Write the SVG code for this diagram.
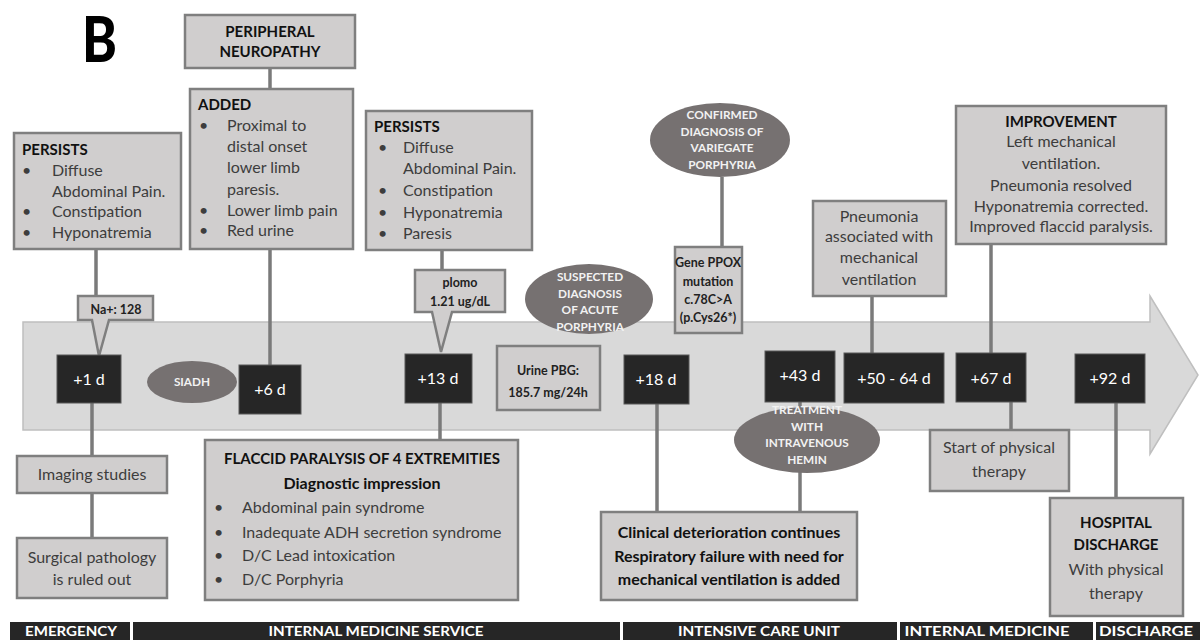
<svg xmlns="http://www.w3.org/2000/svg" width="1200" height="640" viewBox="0 0 1200 640">
<style>
.box{fill:#d0cece;stroke:#7f7f7f;stroke-width:2.5}
.tb{fill:#262626;stroke:#595959;stroke-width:1}
.ell{fill:#767171}
.cn{stroke:#7a7a7a;stroke-width:3.5;fill:none}
text{font-family:Lato,"Liberation Sans",sans-serif}
.h{font-weight:bold;fill:#111;font-size:15px}
.hm{font-weight:bold;fill:#111;font-size:16px}
.b{fill:#3d3d3d;font-size:16px}
.c{text-anchor:middle}
.sb{font-weight:bold;fill:#222;font-size:12.5px}
.e{font-weight:bold;fill:#f2f2f2;font-size:11.8px;text-anchor:middle}
.t{fill:#fff;font-size:16px;text-anchor:middle}
.bar{fill:#262626}
.bt{fill:#fff;font-weight:bold;font-size:13px;text-anchor:middle}
</style>
<rect width="1200" height="640" fill="#fff"/>
<text x="82" y="62" font-size="62" font-weight="900" fill="#000" textLength="35" lengthAdjust="spacingAndGlyphs">B</text>

<g id="timeline">
<path d="M23,322 H1150 V296 L1198,375 L1150,454 V430 H23 Z" fill="#d9d9d9" stroke="#bfbfbf" stroke-width="1.5"/>
</g>

<g id="connectors">
<line class="cn" x1="96" y1="249" x2="96" y2="296"/>
<line class="cn" x1="270" y1="68" x2="270" y2="89"/>
<line class="cn" x1="270" y1="249" x2="270" y2="365"/>
<line class="cn" x1="442" y1="250" x2="442" y2="270"/>
<line class="cn" x1="440" y1="402" x2="440" y2="440"/>
<line class="cn" x1="92" y1="402" x2="92" y2="456"/>
<line class="cn" x1="92" y1="493" x2="92" y2="538"/>
<line class="cn" x1="722" y1="177" x2="722" y2="247"/>
<line class="cn" x1="872" y1="296" x2="872" y2="353"/>
<line class="cn" x1="991" y1="244" x2="991" y2="353"/>
<line class="cn" x1="657" y1="404" x2="657" y2="512"/>
<line class="cn" x1="800" y1="402" x2="800" y2="410"/>
<line class="cn" x1="800" y1="470" x2="800" y2="512"/>
<line class="cn" x1="1011" y1="402" x2="1011" y2="430"/>
<line class="cn" x1="1116" y1="403" x2="1116" y2="498"/>
</g>

<g id="persists1">
<rect class="box" x="14" y="133" width="167" height="116"/>
<text class="h" x="22" y="155">PERSISTS</text>
<text class="b" x="22" y="176">•</text><text class="b" x="52" y="176">Diffuse</text>
<text class="b" x="52" y="197">Abdominal Pain.</text>
<text class="b" x="22" y="217">•</text><text class="b" x="52" y="217">Constipation</text>
<text class="b" x="22" y="238">•</text><text class="b" x="52" y="238">Hyponatremia</text>
</g>

<g id="peripheral">
<rect class="box" x="185" y="15" width="170" height="53"/>
<text class="h c" x="270" y="37" font-size="14">PERIPHERAL</text>
<text class="h c" x="270" y="57" font-size="14">NEUROPATHY</text>
</g>

<g id="added">
<rect class="box" x="190" y="89" width="163" height="160"/>
<text class="h" x="198" y="110">ADDED</text>
<text class="b" x="199" y="131">•</text><text class="b" x="227" y="131">Proximal to</text>
<text class="b" x="227" y="152">distal onset</text>
<text class="b" x="227" y="173">lower limb</text>
<text class="b" x="227" y="195">paresis.</text>
<text class="b" x="199" y="216">•</text><text class="b" x="227" y="216">Lower limb pain</text>
<text class="b" x="199" y="236">•</text><text class="b" x="227" y="236">Red urine</text>
</g>

<g id="persists2">
<rect class="box" x="366" y="111" width="166" height="139"/>
<text class="h" x="374" y="132">PERSISTS</text>
<text class="b" x="378" y="153">•</text><text class="b" x="403" y="153">Diffuse</text>
<text class="b" x="403" y="174">Abdominal Pain.</text>
<text class="b" x="378" y="196">•</text><text class="b" x="403" y="196">Constipation</text>
<text class="b" x="378" y="218">•</text><text class="b" x="403" y="218">Hyponatremia</text>
<text class="b" x="378" y="239">•</text><text class="b" x="403" y="239">Paresis</text>
</g>

<g id="na">
<path class="box" d="M78,296 H153 V320 H109 L99,356 L92,320 H78 Z"/>
<text class="sb c" x="116" y="314" font-size="13.5">Na+: 128</text>
</g>

<g id="plomo">
<path class="box" d="M415,270 H505 V312 H452 L441,352 L432,312 H415 Z"/>
<text class="sb c" x="460" y="287">plomo</text>
<text class="sb c" x="460" y="306">1.21 ug/dL</text>
</g>

<g id="suspected">
<ellipse class="ell" cx="589" cy="299" rx="64" ry="35"/>
<text class="e" x="590" y="281">SUSPECTED</text>
<text class="e" x="590" y="297.5">DIAGNOSIS</text>
<text class="e" x="590" y="314">OF ACUTE</text>
<text class="e" x="590" y="330.5">PORPHYRIA</text>
</g>

<g id="confirmed">
<ellipse class="ell" cx="720" cy="140" rx="70" ry="37"/>
<text class="e" x="722" y="119">CONFIRMED</text>
<text class="e" x="722" y="136">DIAGNOSIS OF</text>
<text class="e" x="722" y="152">VARIEGATE</text>
<text class="e" x="722" y="169">PORPHYRIA</text>
</g>

<g id="gene">
<rect class="box" x="675" y="247" width="67" height="86"/>
<text class="sb c" x="708" y="267">Gene PPOX</text>
<text class="sb c" x="708" y="286">mutation</text>
<text class="sb c" x="708" y="304">c.78C&gt;A</text>
<text class="sb c" x="708" y="322">(p.Cys26*)</text>
</g>

<g id="pneumonia">
<rect class="box" x="813" y="201" width="133" height="95"/>
<text class="b c" x="879" y="222">Pneumonia</text>
<text class="b c" x="879" y="242">associated with</text>
<text class="b c" x="879" y="263">mechanical</text>
<text class="b c" x="879" y="285">ventilation</text>
</g>

<g id="improvement">
<rect class="box" x="956" y="106" width="210" height="138"/>
<text class="h c" x="1061" y="127">IMPROVEMENT</text>
<text class="b c" x="1061" y="147">Left mechanical</text>
<text class="b c" x="1061" y="169">ventilation.</text>
<text class="b c" x="1061" y="191">Pneumonia resolved</text>
<text class="b c" x="1061" y="212">Hyponatremia corrected.</text>
<text class="b c" x="1061" y="232">Improved flaccid paralysis.</text>
</g>

<g id="d1"><rect class="tb" x="57" y="355" width="64" height="48"/><text class="t" x="89" y="385">+1 d</text></g>
<g id="siadh"><ellipse class="ell" cx="192" cy="382" rx="45" ry="21"/><text class="e" x="192" y="386">SIADH</text></g>
<g id="d6"><rect class="tb" x="239" y="365" width="62" height="49"/><text class="t" x="270" y="395">+6 d</text></g>
<g id="d13"><rect class="tb" x="405" y="354" width="67" height="49"/><text class="t" x="438" y="384">+13 d</text></g>
<g id="urine">
<rect class="box" x="497" y="346" width="103" height="64"/>
<text class="sb c" x="548" y="375" font-size="13.5">Urine PBG:</text>
<text class="sb c" x="548" y="397" font-size="13.5">185.7 mg/24h</text>
</g>
<g id="d18"><rect class="tb" x="624" y="355" width="65" height="49"/><text class="t" x="656" y="385">+18 d</text></g>
<g id="d43"><rect class="tb" x="765" y="351" width="70" height="51"/><text class="t" x="800" y="381">+43 d</text></g>
<g id="d50"><rect class="tb" x="844" y="353" width="100" height="50"/><text class="t" x="894" y="384">+50 - 64 d</text></g>
<g id="d67"><rect class="tb" x="956" y="353" width="70" height="49"/><text class="t" x="991" y="384">+67 d</text></g>
<g id="d92"><rect class="tb" x="1075" y="354" width="70" height="49"/><text class="t" x="1110" y="384">+92 d</text></g>

<g id="treatment">
<ellipse class="ell" cx="807" cy="440" rx="73" ry="33"/>
<text class="e" x="807" y="414">TREATMENT</text>
<text class="e" x="807" y="431">WITH</text>
<text class="e" x="807" y="447">INTRAVENOUS</text>
<text class="e" x="807" y="464">HEMIN</text>
</g>

<g id="imaging">
<rect class="box" x="17" y="456" width="150" height="37"/>
<text class="b c" x="92" y="480">Imaging studies</text>
</g>
<g id="surgical">
<rect class="box" x="17" y="538" width="150" height="60"/>
<text class="b c" x="92" y="563">Surgical pathology</text>
<text class="b c" x="92" y="585">is ruled out</text>
</g>

<g id="flaccid">
<rect class="box" x="205" y="440" width="313" height="160"/>
<text class="h c" x="362" y="464">FLACCID PARALYSIS OF 4 EXTREMITIES</text>
<text class="hm c" x="362" y="489">Diagnostic impression</text>
<text class="b" x="214" y="513">•</text><text class="b" x="242" y="513">Abdominal pain syndrome</text>
<text class="b" x="214" y="538">•</text><text class="b" x="242" y="538">Inadequate ADH secretion syndrome</text>
<text class="b" x="214" y="561">•</text><text class="b" x="242" y="561">D/C Lead intoxication</text>
<text class="b" x="214" y="585">•</text><text class="b" x="242" y="585">D/C Porphyria</text>
</g>

<g id="clinical">
<rect class="box" x="601" y="512" width="256" height="88"/>
<text class="hm c" x="729" y="538">Clinical deterioration continues</text>
<text class="hm c" x="729" y="562">Respiratory failure with need for</text>
<text class="hm c" x="729" y="585">mechanical ventilation is added</text>
</g>

<g id="startpt">
<rect class="box" x="930" y="430" width="139" height="61"/>
<text class="b c" x="999" y="453">Start of physical</text>
<text class="b c" x="999" y="477">therapy</text>
</g>

<g id="discharge">
<rect class="box" x="1050" y="498" width="133" height="118"/>
<text class="h c" x="1116" y="528">HOSPITAL</text>
<text class="h c" x="1116" y="550">DISCHARGE</text>
<text class="b c" x="1116" y="575">With physical</text>
<text class="b c" x="1116" y="599">therapy</text>
</g>

<g id="services">
<rect class="bar" x="10" y="622" width="120" height="18"/>
<rect class="bar" x="133" y="622" width="487" height="18"/>
<rect class="bar" x="623" y="622" width="274" height="18"/>
<rect class="bar" x="900" y="622" width="193" height="18"/>
<rect class="bar" x="1096" y="622" width="104" height="18"/>
<text class="bt" x="71" y="636" textLength="92" lengthAdjust="spacingAndGlyphs">EMERGENCY</text>
<text class="bt" x="376" y="636" textLength="215" lengthAdjust="spacingAndGlyphs">INTERNAL MEDICINE SERVICE</text>
<text class="bt" x="759" y="636" textLength="162" lengthAdjust="spacingAndGlyphs">INTENSIVE CARE UNIT</text>
<text class="bt" x="987" y="636" textLength="165" lengthAdjust="spacingAndGlyphs">INTERNAL MEDICINE</text>
<text class="bt" x="1146" y="636" textLength="94" lengthAdjust="spacingAndGlyphs">DISCHARGE</text>
</g>
</svg>
